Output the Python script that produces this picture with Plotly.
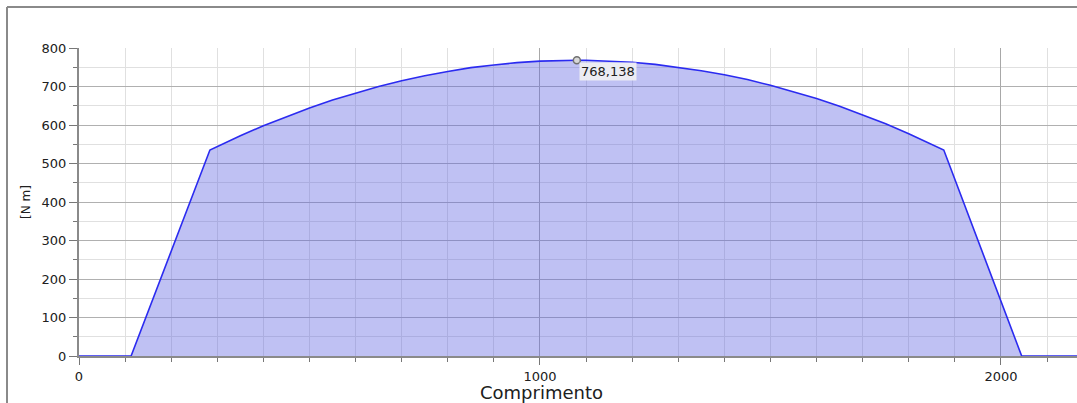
import plotly.graph_objects as go

# Bending moment along the beam length
comprimento = [0, 113, 284, 300, 350, 400, 450, 500, 550, 600, 650, 700, 750,
               800, 850, 900, 950, 1000, 1050, 1080, 1100, 1150, 1200, 1250,
               1300, 1350, 1400, 1450, 1500, 1550, 1600, 1650, 1700, 1750,
               1800, 1850, 1876, 2045, 2165]
momento = [0, 0, 535, 544, 572, 598, 622, 644, 665, 683, 700, 715, 728,
           739, 749, 756, 762, 766, 768, 768.138, 768, 766, 763, 757.5,
           750, 741, 730.5, 718, 703, 687, 669, 649, 627, 603,
           577.5, 550, 535, 0, 0]

peak_x = 1080
peak_y = 768.138
peak_label = f"{peak_y:.3f}".replace(".", ",")

W, H = 1077, 403
ML, MR, MT, MB = 79, 0, 48, 47

fig = go.Figure()
fig.add_trace(go.Scatter(
    x=comprimento, y=momento, mode="lines",
    line=dict(color="#2b2bf0", width=1.6),
    fill="tozeroy", fillcolor="rgba(95,100,225,0.40)",
    hoverinfo="skip", showlegend=False, cliponaxis=False,
))
fig.add_trace(go.Scatter(
    x=[peak_x], y=[peak_y], mode="markers",
    marker=dict(size=7, color="#d8d8d8", line=dict(color="#707070", width=1.5)),
    hoverinfo="skip", showlegend=False,
))

fig.add_annotation(
    x=peak_x, y=peak_y, xref="x", yref="y", text=peak_label, showarrow=False,
    xanchor="left", yanchor="top", xshift=2, yshift=-2,
    font=dict(family="DejaVu Sans", size=13, color="#202020"),
    bgcolor="rgba(238,238,242,0.95)", borderpad=1,
)

# Outer frame (top and left edges)
pw = W - ML - MR
ph = H - MT - MB
fx = (7 - ML) / pw
fy = (H - MB - 7) / ph
fb = (H - MB - H) / ph
fig.add_shape(type="line", xref="paper", yref="paper", x0=fx, x1=1.01, y0=fy, y1=fy,
              line=dict(color="#8a8a8a", width=2))
fig.add_shape(type="line", xref="paper", yref="paper", x0=fx, x1=fx, y0=fy, y1=fb,
              line=dict(color="#8a8a8a", width=2))

fig.add_annotation(
    x=(541 - ML) / pw, y=(H - MB - 392) / ph, xref="paper", yref="paper",
    text="Comprimento", showarrow=False, xanchor="center", yanchor="middle",
    font=dict(family="DejaVu Sans", size=18, color="#202020"),
)

fig.update_xaxes(
    range=[0, 2165], tickvals=[0, 1000, 2000], ticktext=["0", "1000", "2000"],
    ticks="outside", ticklen=7, tickwidth=1, tickcolor="#777777",
    showgrid=True, gridcolor="#a8a8a8", gridwidth=1,
    showline=True, linecolor="#8a8a8a", linewidth=2,
    zeroline=False, layer="below traces",
    tickfont=dict(family="DejaVu Sans", size=13, color="#202020"),
    minor=dict(dtick=100, tick0=0, ticks="outside", ticklen=4, tickcolor="#777777",
               showgrid=True, gridcolor="#e0e0e0", gridwidth=1),
)
fig.update_yaxes(
    range=[0, 800], dtick=100, tick0=0,
    ticks="outside", ticklen=8, tickwidth=1, tickcolor="#777777",
    showgrid=True, gridcolor="#b0b0b0", gridwidth=1,
    showline=True, linecolor="#8a8a8a", linewidth=2,
    zeroline=False, layer="below traces",
    tickfont=dict(family="DejaVu Sans", size=13, color="#202020"),
    title=dict(text="[N m]", font=dict(family="DejaVu Sans", size=12, color="#202020"),
               standoff=8),
    minor=dict(dtick=50, tick0=0, ticks="outside", ticklen=4, tickcolor="#777777",
               showgrid=True, gridcolor="#e0e0e0", gridwidth=1),
)

fig.update_layout(
    width=W, height=H,
    margin=dict(l=ML, r=MR, t=MT, b=MB),
    paper_bgcolor="white", plot_bgcolor="white",
    showlegend=False,
)

fig.write_html("out.html")
